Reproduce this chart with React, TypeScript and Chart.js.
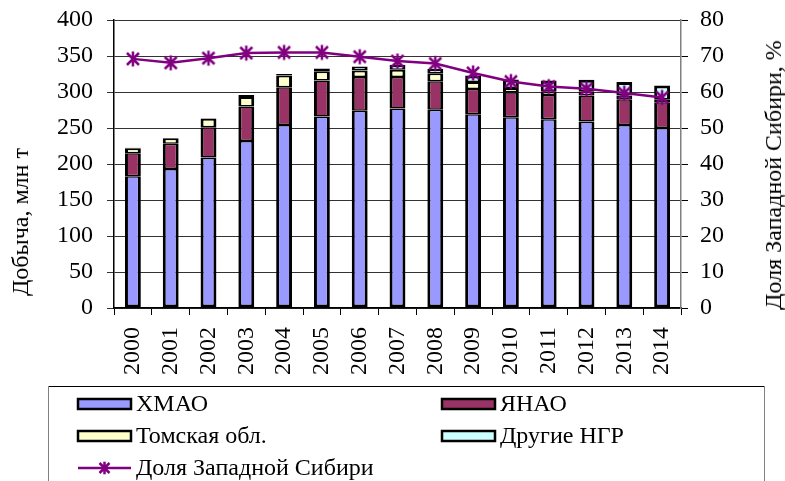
import React, { useEffect, useRef } from "react";
import { Chart, registerables } from "chart.js";

Chart.register(...registerables);

const years = ["2000", "2001", "2002", "2003", "2004", "2005", "2006", "2007", "2008", "2009", "2010", "2011", "2012", "2013", "2014"];
const hmao = [183, 193, 209, 232, 254, 266, 274, 277, 275.5, 269, 265, 262, 259, 254, 250];
const yanao = [32, 35, 42, 48, 52.5, 50, 47, 44, 39.5, 35, 34.5, 34, 36, 36, 35.6];
const tomsk = [7, 7.6, 12, 13, 16.5, 12.7, 9, 10, 11, 10, 6, 5, 6, 5, 4.4];
const other = [0.5, 0.5, 0.5, 3, 2, 4, 5.5, 7, 6, 9, 12, 15, 16, 19, 19];
const share = [69.2, 68.1, 69.4, 70.8, 71.0, 71.0, 69.8, 68.6, 67.9, 65.3, 62.9, 61.5, 60.9, 59.7, 58.5];

const leftTicks = [0, 50, 100, 150, 200, 250, 300, 350, 400];
const rightTicks = [0, 10, 20, 30, 40, 50, 60, 70, 80];

const leftTitle = "Добыча, млн т";
const rightTitle = "Доля Западной Сибири, %";

const FONT_FAMILY = "Liberation Serif";
const PURPLE = "#800080";

function drawStar(ctx: CanvasRenderingContext2D, cx: number, cy: number, r: number) {
  ctx.save();
  ctx.strokeStyle = PURPLE;
  ctx.lineWidth = 2.5;
  ctx.lineCap = "butt";
  ctx.beginPath();
  ctx.moveTo(cx - r, cy - r);
  ctx.lineTo(cx + r, cy + r);
  ctx.moveTo(cx + r, cy - r);
  ctx.lineTo(cx - r, cy + r);
  ctx.moveTo(cx, cy - r * 1.25);
  ctx.lineTo(cx, cy + r * 1.25);
  ctx.stroke();
  ctx.restore();
}

function makeMarker(): HTMLCanvasElement {
  const c = document.createElement("canvas");
  c.width = 18;
  c.height = 18;
  const ctx = c.getContext("2d")!;
  drawStar(ctx, 9, 9, 6);
  return c;
}

const overlayPlugin = {
  id: "overlay",
  afterDraw(chart: any) {
    const ctx: CanvasRenderingContext2D = chart.ctx;
    ctx.save();
    ctx.font = `24px ${FONT_FAMILY}`;
    ctx.textBaseline = "middle";

    ctx.strokeStyle = "#000";
    ctx.lineWidth = 1;
    ctx.beginPath();
    ctx.moveTo(48, 386.5);
    ctx.lineTo(764, 386.5);
    ctx.stroke();
    ctx.strokeStyle = "#808080";
    ctx.beginPath();
    ctx.moveTo(764.5, 386);
    ctx.lineTo(764.5, 481);
    ctx.moveTo(48.5, 386);
    ctx.lineTo(48.5, 481);
    ctx.stroke();

    const items = [
      { label: "ХМАО", color: "#9999FF", x: 78, y: 404 },
      { label: "ЯНАО", color: "#993366", x: 442, y: 404 },
      { label: "Томская обл.", color: "#FFFFCC", x: 78, y: 436 },
      { label: "Другие НГР", color: "#CCFFFF", x: 442, y: 436 },
    ];
    ctx.textAlign = "left";
    for (const it of items) {
      ctx.fillStyle = it.color;
      ctx.fillRect(it.x, it.y - 5, 53, 10);
      ctx.strokeStyle = "#000";
      ctx.lineWidth = 2.5;
      ctx.strokeRect(it.x, it.y - 5, 53, 10);
      ctx.fillStyle = "#000";
      ctx.fillText(it.label, it.x + 58, it.y + 1);
    }
    ctx.strokeStyle = PURPLE;
    ctx.lineWidth = 2.5;
    ctx.beginPath();
    ctx.moveTo(78, 468);
    ctx.lineTo(131, 468);
    ctx.stroke();
    drawStar(ctx, 104.5, 468, 5);
    ctx.fillStyle = "#000";
    ctx.fillText("Доля Западной Сибири", 136, 469);
    ctx.restore();
  },
};

const titleStyle = (x: number, y: number): React.CSSProperties => ({
  position: "absolute",
  left: x,
  top: y,
  transform: "translate(-50%, -50%) rotate(-90deg)",
  whiteSpace: "nowrap",
  fontFamily: FONT_FAMILY,
  fontSize: 24,
  lineHeight: 1,
  color: "#000",
});

export default function App() {
  const ref = useRef<HTMLCanvasElement>(null);
  useEffect(() => {
    if (!ref.current) return;
    let chart: any = null;
    let cancelled = false;
    const timers: any[] = [];
    const build = () => {
      if (cancelled || !ref.current) return;
      const marker = makeMarker();
      const barCommon = {
        type: "bar" as const,
        yAxisID: "y",
        borderColor: "#000",
        borderSkipped: false,
        barPercentage: 0.42,
        categoryPercentage: 1,
        stack: "s",
        order: 1,
      };
      const tickFont = { family: FONT_FAMILY, size: 24 };
      chart = new Chart(ref.current, {
        type: "bar",
        data: {
          labels: years,
          datasets: [
            {
              type: "line",
              label: "Доля Западной Сибири",
              data: share,
              yAxisID: "y1",
              borderColor: PURPLE,
              borderWidth: 2.5,
              pointStyle: marker as any,
              pointRadius: 6,
              tension: 0,
              order: 0,
            } as any,
            { ...barCommon, label: "ХМАО", data: hmao, backgroundColor: "#9999FF", borderWidth: { top: 1.5, bottom: 3, left: 3, right: 3 } },
            { ...barCommon, label: "ЯНАО", data: yanao, backgroundColor: "#993366", borderWidth: { top: 1.5, bottom: 1.5, left: 3, right: 3 } },
            { ...barCommon, label: "Томская обл.", data: tomsk, backgroundColor: "#FFFFCC", borderWidth: { top: 2, bottom: 1.5, left: 3, right: 3 } },
            { ...barCommon, label: "Другие НГР", data: other, backgroundColor: "#CCFFFF", borderWidth: { top: 3, bottom: 1.5, left: 3, right: 3 } },
          ],
        },
        options: {
          responsive: false,
          animation: false,
          layout: { padding: { left: 0, right: 0, top: 20, bottom: 103 } },
          plugins: { legend: { display: false }, tooltip: { enabled: false } },
          font: tickFont,
          scales: {
            x: {
              stacked: true,
              offset: true,
              grid: { drawOnChartArea: false, offset: true, tickLength: 7, color: "#000" },
              border: { color: "#000", width: 1.5 },
              ticks: { autoSkip: false, maxRotation: 90, minRotation: 90, padding: 12, color: "#000", font: tickFont },
              afterFit: (s: any) => {
                s.height = 70;
                s.paddingLeft = 0;
                s.paddingRight = 0;
              },
            },
            y: {
              stacked: true,
              position: "left",
              min: 0,
              max: 400,
              afterBuildTicks: (s: any) => {
                s.ticks = leftTicks.map((v) => ({ value: v }));
              },
              grid: { color: "#333", lineWidth: 1, tickLength: 7 },
              border: { color: "#000", width: 1.5 },
              ticks: { padding: 14, color: "#000", font: tickFont },
              afterFit: (s: any) => {
                s.width = 114;
                s.paddingTop = 0;
                s.paddingBottom = 0;
              },
            },
            y1: {
              position: "right",
              min: 0,
              max: 80,
              afterBuildTicks: (s: any) => {
                s.ticks = rightTicks.map((v) => ({ value: v }));
              },
              grid: { drawOnChartArea: false, tickLength: 7, color: "#000" },
              border: { color: "#808080", width: 1.5 },
              ticks: { padding: 12, color: "#000", font: tickFont },
              afterFit: (s: any) => {
                s.width = 104;
                s.paddingTop = 0;
                s.paddingBottom = 0;
              },
            },
          },
        } as any,
        plugins: [overlayPlugin],
      });
      timers.push(setTimeout(() => chart && chart.update(), 150));
      timers.push(setTimeout(() => chart && chart.update(), 600));
    };
    const fonts: any = (document as any).fonts;
    const p = fonts && fonts.load ? fonts.load(`24px ${FONT_FAMILY}`, "Добыча 2000").then(() => fonts.ready) : Promise.resolve();
    p.catch(() => null).then(() => {
      timers.push(setTimeout(build, 0));
    });
    return () => {
      cancelled = true;
      timers.forEach((t) => clearTimeout(t));
      if (chart) chart.destroy();
    };
  }, []);
  return (
    <div style={{ position: "absolute", left: 0, top: 0, width: 785, height: 481, background: "#fff", fontFamily: FONT_FAMILY }}>
      <canvas ref={ref} width={785} height={481} style={{ display: "block", width: 785, height: 481, position: "absolute", left: 0, top: 0 }} />
      <div style={titleStyle(20, 222)}>{leftTitle}</div>
      <div style={titleStyle(773, 175)}>{rightTitle}</div>
    </div>
  );
}
